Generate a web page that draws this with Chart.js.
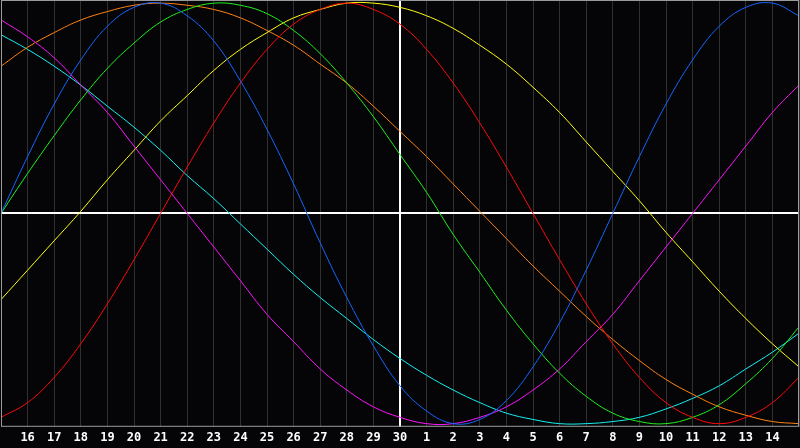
<!DOCTYPE html>
<html>
<head>
<meta charset="utf-8">
<script src="https://cdn.jsdelivr.net/npm/chart.js@4"></script>
<style>
  html, body { margin: 0; padding: 0; background: #050507; }
  #wrap { width: 800px; height: 448px; }
</style>
</head>
<body>
<div id="wrap"><canvas id="bio"></canvas></div>
<script>
// day of month under each grid line (first and last are the frame edges)
const days = [15, 16, 17, 18, 19, 20, 21, 22, 23, 24, 25, 26, 27, 28, 29, 30,
              1, 2, 3, 4, 5, 6, 7, 8, 9, 10, 11, 12, 13, 14, 15];

// cycle values in percent
const physical = [0, 27, 52, 73, 89, 98, 100, 94, 82, 63, 40, 14, -14, -40, -63, -82,
                  -94, -100, -98, -89, -73, -52, -27, 0, 27, 52, 73, 89, 98, 100, 94];
const emotional = [-97, -90, -78, -62, -43, -22, 0, 22, 43, 62, 78, 90, 97, 100, 97, 90,
                   78, 62, 43, 22, 0, -22, -43, -62, -78, -90, -97, -100, -97, -90, -78];
const intellectual = [0, 19, 37, 54, 69, 81, 91, 97, 100, 99, 95, 87, 76, 62, 46, 28,
                      10, -10, -28, -46, -62, -76, -87, -95, -99, -100, -97, -91, -81, -69, -54];
const intuitive = [92, 84, 74, 61, 48, 32, 16, 0, -16, -32, -48, -61, -74, -84, -92, -97,
                   -100, -100, -97, -92, -84, -74, -61, -48, -32, -16, 0, 16, 32, 48, 61];
const aesthetic = [-41, -27, -13, 1, 16, 30, 44, 56, 68, 78, 86, 93, 97, 100, 100, 98,
                   94, 88, 80, 71, 60, 48, 34, 20, 6, -9, -23, -37, -50, -62, -73];
const awareness = [70, 79, 86, 92, 96, 99, 100, 99, 97, 93, 87, 80, 71, 62, 51, 39,
                   27, 14, 1, -12, -25, -37, -49, -60, -70, -79, -86, -92, -96, -99, -100];
const spiritual = [85, 78, 70, 61, 51, 41, 30, 18, 7, -5, -17, -29, -40, -50, -60, -69,
                   -77, -84, -90, -95, -98, -100, -100, -99, -97, -93, -88, -82, -74, -66, -57];

const todayIndex = 15;

function line(label, data, color) {
    return {
        label: label,
        data: data,
        borderColor: color,
        borderWidth: 1,
        pointRadius: 0,
        tension: 0.4,
        fill: false,
    };
}

// gray frame around the plot area
const framePlugin = {
    id: "frame",
    afterDraw(chart) {
        const a = chart.chartArea;
        const ctx = chart.ctx;
        ctx.save();
        ctx.strokeStyle = "#9a9a9a";
        ctx.lineWidth = 1;
        ctx.strokeRect(a.left + 0.5, a.top + 0.5, a.right - a.left - 1, a.bottom - a.top - 1);
        ctx.restore();
    }
};

new Chart(document.getElementById("bio"), {
    type: "line",
    data: {
        labels: days,
        datasets: [
            line("Physical", physical, "#1566ff"),
            line("Emotional", emotional, "#ff0a0a"),
            line("Intellectual", intellectual, "#1ef01e"),
            line("Intuitive", intuitive, "#ff14ff"),
            line("Aesthetic", aesthetic, "#ffff14"),
            line("Awareness", awareness, "#ff8214"),
            line("Spiritual", spiritual, "#14f0f0"),
        ],
    },
    options: {
        responsive: true,
        maintainAspectRatio: false,
        animation: false,
        layout: { padding: 0 },
        plugins: {
            legend: { display: false },
            tooltip: { enabled: false },
        },
        scales: {
            x: {
                offset: false,
                border: { display: false },
                grid: {
                    drawTicks: false,
                    color: ctx => ctx.index === todayIndex ? "#ffffff" : "#303030",
                    lineWidth: ctx => ctx.index === todayIndex ? 2 : 1,
                },
                ticks: {
                    autoSkip: false,
                    maxRotation: 0,
                    padding: 1,
                    color: "#ffffff",
                    font: { family: "'DejaVu Sans Mono', monospace", size: 12, weight: "bold", lineHeight: 1.6 },
                    callback: function (val, index) {
                        if (index === 0 || index === days.length - 1) return "";
                        return this.getLabelForValue(val);
                    },
                },
            },
            y: {
                min: -101.5,
                max: 101.5,
                border: { display: false },
                grid: {
                    drawTicks: false,
                    color: ctx => ctx.tick && ctx.tick.value === 0 ? "#ffffff" : "rgba(0,0,0,0)",
                    lineWidth: 2,
                },
                ticks: { display: false, stepSize: 100 },
            },
        },
    },
    plugins: [framePlugin],
});
</script>
</body>
</html>
